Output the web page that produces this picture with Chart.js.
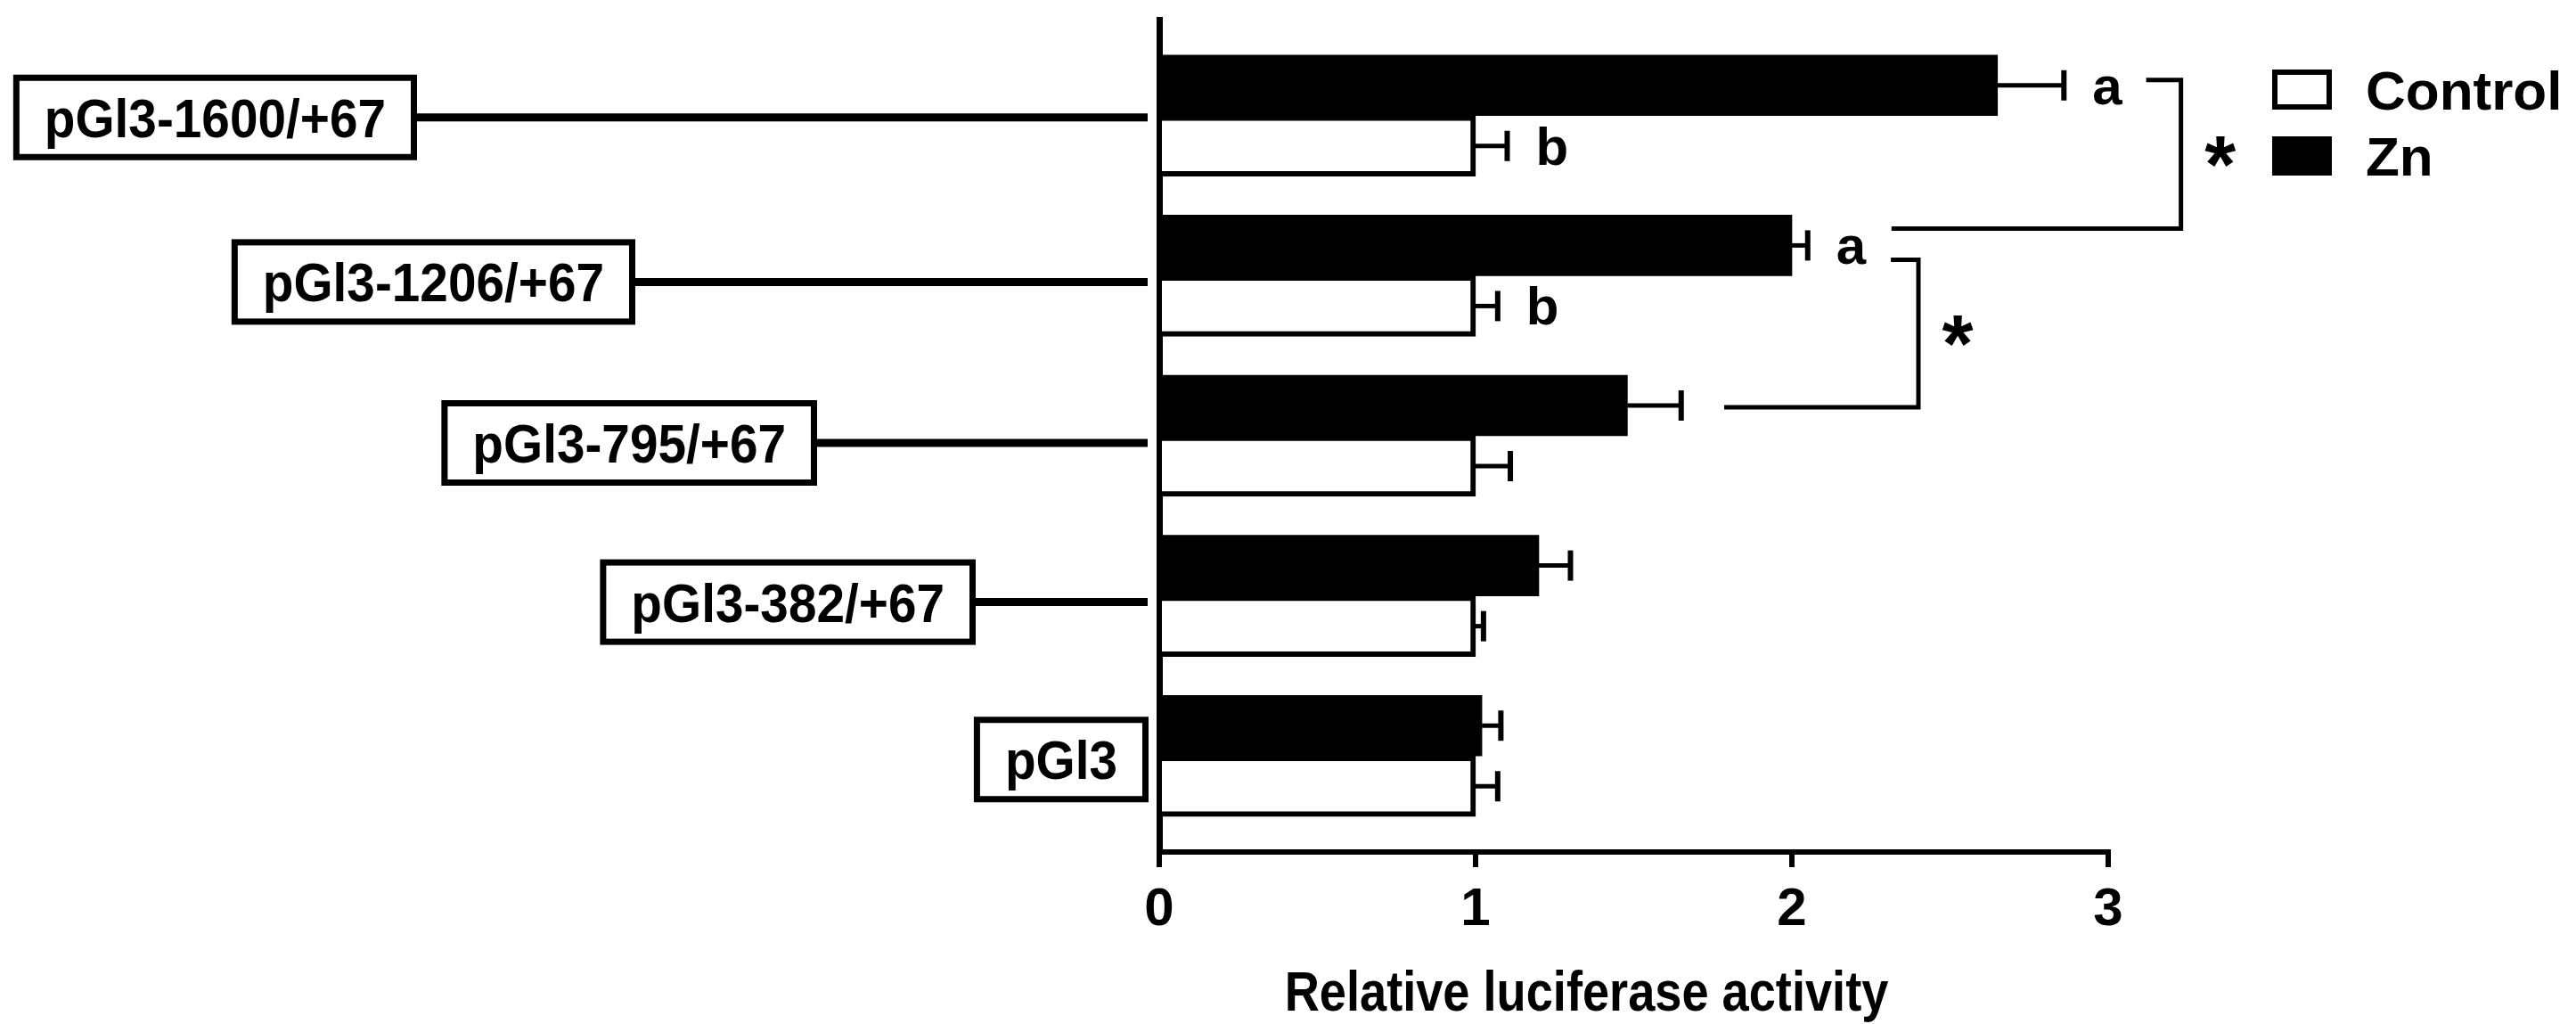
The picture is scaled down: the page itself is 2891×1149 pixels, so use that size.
<!DOCTYPE html>
<html>
<head>
<meta charset="utf-8">
<script src="https://cdn.jsdelivr.net/npm/chart.js@4.4.1/dist/chart.umd.min.js"></script>
<style>
  html, body { margin: 0; padding: 0; background: #fff; }
  #wrap { width: 2891px; height: 1149px; }
</style>
</head>
<body>
<div id="wrap"><canvas id="chart" width="2891" height="1149"></canvas></div>
<script>
// Data
const constructs = ["pGl3-1600/+67", "pGl3-1206/+67", "pGl3-795/+67", "pGl3-382/+67", "pGl3"];
const seriesNames = ["Control", "Zn"];
const controlValues = [1.00, 1.00, 1.00, 1.00, 1.00];
const controlErrors = [0.10, 0.07, 0.11, 0.025, 0.07];
const znValues = [2.65, 2.00, 1.48, 1.20, 1.02];
const znErrors = [0.21, 0.05, 0.17, 0.10, 0.06];
const controlLetters = ["b", "b", "", "", ""];
const znLetters = ["a", "a", "", "", ""];
const xTicks = [0, 1, 2, 3];
const xTitle = "Relative luciferase activity";
// significance brackets between Zn bars (x in activity units)
const brackets = [
    { from: 0, to: 1, topStart: 3.12, bottomStart: 2.315, side: 3.23 },
    { from: 1, to: 2, topStart: 2.313, bottomStart: 1.786, side: 2.40 }
];

const black = "#000";
const family = '"Liberation Sans", Arial, sans-serif';

// condensed text helper (the figure uses a narrow bold face)
function narrowText(ctx, text, x, y, squeeze) {
    ctx.save();
    ctx.translate(x, y);
    ctx.scale(squeeze, 1);
    ctx.fillText(text, 0, 0);
    ctx.restore();
}

// Extra drawing: error bars, letters, brackets, construct boxes, legend, axis title
const figureExtras = {
    id: "figureExtras",
    afterDraw(chart) {
        const ctx = chart.ctx;
        const x = chart.scales.x;
        const y = chart.scales.y;
        const znMeta = chart.getDatasetMeta(0);
        const ctrlMeta = chart.getDatasetMeta(1);

        ctx.save();
        ctx.strokeStyle = black;
        ctx.fillStyle = black;
        ctx.lineJoin = "miter";

        // error bars and letters
        const sets = [
            [znMeta, znValues, znErrors, znLetters],
            [ctrlMeta, controlValues, controlErrors, controlLetters]
        ];
        sets.forEach(([meta, vals, errs, letters]) => {
            meta.data.forEach((bar, i) => {
                const x0 = x.getPixelForValue(vals[i]);
                const x1 = x.getPixelForValue(vals[i] + errs[i]);
                const cy = bar.y;
                ctx.lineWidth = 5;
                ctx.beginPath();
                ctx.moveTo(x0, cy);
                ctx.lineTo(x1, cy);
                ctx.stroke();
                ctx.lineWidth = 6;
                ctx.beginPath();
                ctx.moveTo(x1, cy - 17);
                ctx.lineTo(x1, cy + 17);
                ctx.stroke();
                if (letters[i]) {
                    ctx.font = "bold 60px " + family;
                    ctx.textAlign = "left";
                    ctx.textBaseline = "alphabetic";
                    ctx.fillText(letters[i], x1 + 32, cy + 21);
                }
            });
        });

        // brackets with asterisks
        const offs = [[-6, -19], [16, 2]];
        brackets.forEach((b, k) => {
            const yTop = znMeta.data[b.from].y + offs[k][0];
            const yBot = znMeta.data[b.to].y + offs[k][1];
            const xs = x.getPixelForValue(b.side);
            ctx.lineWidth = 5;
            ctx.beginPath();
            ctx.moveTo(x.getPixelForValue(b.topStart), yTop);
            ctx.lineTo(xs, yTop);
            ctx.lineTo(xs, yBot);
            ctx.lineTo(x.getPixelForValue(b.bottomStart), yBot);
            ctx.stroke();
            ctx.font = "bold 90px " + family;
            ctx.textAlign = "center";
            ctx.textBaseline = "alphabetic";
            ctx.fillText("*", xs + 44, (yTop + yBot) / 2 - 9 + 52);
        });

        // construct boxes on the left
        const boxRight = [468, 713, 917, 1095, 1289];
        const boxShift = [2, 7, 8, 7, 4];
        const squeeze = 0.93;
        ctx.font = "bold 61px " + family;
        ctx.textBaseline = "alphabetic";
        ctx.textAlign = "center";
        constructs.forEach((name, i) => {
            const cy = y.getPixelForValue(i) + boxShift[i];
            const tw = ctx.measureText(name).width * squeeze;
            const w = tw + 70;
            const h = 96;
            const r = boxRight[i];
            ctx.lineWidth = 7;
            ctx.strokeRect(r - w + 3.5, cy - h / 2 + 3.5, w - 7, h - 7);
            narrowText(ctx, name, r - w / 2, cy + 22, squeeze);
            if (r < x.left - 40) {
                ctx.lineWidth = 9;
                ctx.beginPath();
                ctx.moveTo(r, cy);
                ctx.lineTo(x.left - 13, cy);
                ctx.stroke();
            }
        });

        // x axis title
        ctx.font = "bold 63px " + family;
        ctx.textAlign = "center";
        narrowText(ctx, xTitle, (x.left + x.right) / 2 - 53, 1134, 0.86);

        // legend
        const lx = x.right + 184;
        ctx.lineWidth = 6;
        ctx.strokeRect(lx + 3, 81, 61, 39);
        ctx.fillRect(lx, 153, 67, 44);
        ctx.font = "bold 62px " + family;
        ctx.textAlign = "left";
        ctx.fillText(seriesNames[0], lx + 105, 123);
        ctx.fillText(seriesNames[1], lx + 105, 197);

        ctx.restore();
    }
};

new Chart(document.getElementById("chart"), {
    type: "bar",
    data: {
        datasets: [
            {
                label: seriesNames[1],
                data: znValues.map((v, i) => ({ x: v, y: i })),
                backgroundColor: black,
                borderWidth: 0,
                barThickness: 68
            },
            {
                label: seriesNames[0],
                data: controlValues.map((v, i) => ({ x: v, y: i })),
                backgroundColor: "#fff",
                borderColor: black,
                borderWidth: 6,
                barThickness: 68
            }
        ]
    },
    options: {
        indexAxis: "y",
        responsive: false,
        animation: false,
        layout: { padding: { left: 1301, right: 525, top: 22, bottom: 0 } },
        plugins: {
            legend: { display: false },
            tooltip: { enabled: false }
        },
        scales: {
            x: {
                type: "linear",
                min: 0,
                max: 3,
                z: 1,
                afterFit: (s) => { s.height = 193; },
                afterBuildTicks: (s) => { s.ticks = xTicks.map((v) => ({ value: v })); },
                ticks: { color: black, padding: 12, font: { family: family, size: 60, weight: "bold" } },
                grid: {
                    display: true,
                    drawOnChartArea: false,
                    drawTicks: true,
                    tickLength: 17,
                    tickWidth: 6,
                    tickColor: black,
                    lineWidth: 6,
                    color: black
                },
                border: { display: true, width: 6, color: black },
                title: { display: false, text: xTitle }
            },
            y: {
                type: "linear",
                min: -0.6,
                max: 4.6,
                bounds: "data",
                offset: false,
                reverse: true,
                z: 1,
                afterDataLimits: (s) => { s.min = -0.6; s.max = 4.6; },
                afterBuildTicks: (s) => { s.ticks = constructs.map((c, i) => ({ value: i })); },
                afterFit: (s) => { s.width = 0; },
                ticks: { display: false },
                grid: { display: false },
                border: { display: true, width: 7, color: black }
            }
        }
    },
    plugins: [figureExtras]
});
</script>
</body>
</html>
